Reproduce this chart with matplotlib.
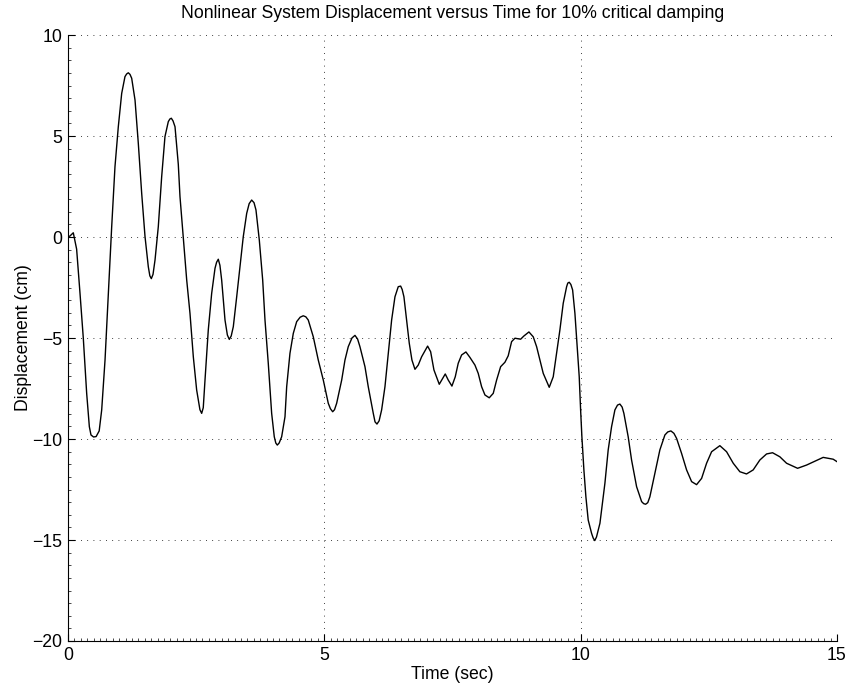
import numpy as np
import matplotlib
matplotlib.use("Agg")
import matplotlib.pyplot as plt
from matplotlib.ticker import MultipleLocator

# displacement history (sec, cm)
time_sec = [
    0.00, 0.04, 0.105, 0.17, 0.236, 0.30, 0.366, 0.418, 0.45, 0.50, 0.55, 0.61, 0.659, 0.724,
    0.788, 0.854, 0.918, 0.983, 1.049, 1.113, 1.145, 1.178, 1.211, 1.244, 1.309, 1.373, 1.439,
    1.504, 1.568, 1.598, 1.627, 1.66, 1.699, 1.763, 1.829, 1.893, 1.958, 1.988, 2.017, 2.05,
    2.089, 2.153, 2.186, 2.25, 2.317, 2.381, 2.446, 2.511, 2.575, 2.609, 2.64, 2.674, 2.738,
    2.804, 2.869, 2.90, 2.933, 2.965, 2.999, 3.064, 3.11, 3.148, 3.185, 3.226, 3.292, 3.356,
    3.42, 3.487, 3.535, 3.584, 3.63, 3.668, 3.733, 3.799, 3.844, 3.908, 3.974, 4.025, 4.055,
    4.084, 4.12, 4.169, 4.234, 4.267, 4.331, 4.396, 4.462, 4.53, 4.59, 4.64, 4.688, 4.786,
    4.883, 4.981, 5.078, 5.12, 5.164, 5.20, 5.242, 5.34, 5.404, 5.468, 5.54, 5.599, 5.65,
    5.696, 5.794, 5.858, 5.956, 5.99, 6.028, 6.07, 6.119, 6.184, 6.248, 6.314, 6.379, 6.443,
    6.49, 6.52, 6.554, 6.607, 6.658, 6.71, 6.769, 6.833, 6.899, 7.016, 7.075, 7.139, 7.243,
    7.309, 7.36, 7.418, 7.49, 7.555, 7.613, 7.679, 7.763, 7.841, 7.939, 8.003, 8.069, 8.134,
    8.218, 8.296, 8.362, 8.44, 8.524, 8.588, 8.654, 8.719, 8.83, 8.894, 8.992, 9.076, 9.142,
    9.206, 9.271, 9.388, 9.466, 9.532, 9.596, 9.661, 9.727, 9.75, 9.778, 9.81, 9.844, 9.889,
    9.934, 9.973, 10.0, 10.025, 10.064, 10.103, 10.148, 10.214, 10.245, 10.276, 10.31,
    10.377, 10.474, 10.538, 10.604, 10.669, 10.72, 10.766, 10.81, 10.844, 10.928, 10.994,
    11.092, 11.19, 11.23, 11.268, 11.31, 11.351, 11.449, 11.546, 11.644, 11.70, 11.761,
    11.82, 11.872, 11.969, 12.067, 12.165, 12.262, 12.36, 12.457, 12.555, 12.716, 12.847,
    12.977, 13.106, 13.236, 13.366, 13.496, 13.627, 13.744, 13.886, 14.017, 14.232, 14.407,
    14.731, 14.926, 15.0,
]
displacement_cm = [
    0.00, 0.05, 0.21, -0.6, -2.79, -5.00, -7.74, -9.39, -9.80, -9.90, -9.88, -9.60, -8.56, -6.09,
    -2.79, 0.51, 3.48, 5.46, 7.11, 7.94, 8.07, 8.13, 8.05, 7.86, 6.78, 4.64, 2.16,
    0.02, -1.47, -1.92, -2.06, -1.85, -1.14, 0.51, 2.99, 4.97, 5.71, 5.84, 5.88, 5.75,
    5.46, 3.60, 2.00, 0.01, -2.13, -3.78, -5.93, -7.57, -8.55, -8.73, -8.45, -7.08, -4.60,
    -2.79, -1.55, -1.25, -1.10, -1.40, -2.13, -4.11, -4.85, -5.07, -4.90, -4.44, -2.96, -1.47,
    0.01, 1.17, 1.65, 1.83, 1.70, 1.34, -0.15, -2.13, -4.11, -6.25, -8.73, -9.89, -10.20,
    -10.30, -10.20, -9.89, -8.90, -7.41, -5.76, -4.77, -4.19, -3.97, -3.90, -3.95, -4.11, -4.94,
    -6.09, -7.08, -8.23, -8.50, -8.65, -8.55, -8.23, -7.08, -6.09, -5.43, -5.00, -4.87, -5.05,
    -5.43, -6.42, -7.41, -8.73, -9.15, -9.26, -9.10, -8.56, -7.41, -5.76, -4.11, -2.96, -2.46,
    -2.43, -2.60, -2.96, -4.11, -5.26, -6.09, -6.55, -6.34, -5.93, -5.40, -5.68, -6.58, -7.29,
    -7.00, -6.78, -7.08, -7.38, -6.92, -6.25, -5.84, -5.69, -5.96, -6.34, -6.75, -7.41, -7.82,
    -7.96, -7.74, -7.08, -6.42, -6.20, -5.88, -5.18, -5.01, -5.06, -4.90, -4.70, -4.94, -5.43,
    -6.09, -6.75, -7.44, -6.92, -5.76, -4.60, -3.28, -2.46, -2.28, -2.24, -2.35, -2.62, -3.78,
    -5.43, -6.92, -8.56, -9.89, -11.53, -12.86, -14.01, -14.67, -14.90, -15.03, -14.85,
    -14.17, -12.19, -10.54, -9.39, -8.56, -8.32, -8.27, -8.42, -8.73, -9.89, -11.04,
    -12.36, -13.10, -13.20, -13.23, -13.15, -12.86, -11.70, -10.54, -9.80, -9.65, -9.60,
    -9.72, -9.97, -10.71, -11.53, -12.11, -12.26, -11.95, -11.20, -10.63, -10.33, -10.63,
    -11.20, -11.62, -11.73, -11.53, -11.04, -10.74, -10.68, -10.88, -11.20, -11.45, -11.29,
    -10.91, -11.00, -11.12,
]

x_ticks = [0, 5, 10, 15]
y_ticks = [-20, -15, -10, -5, 0, 5, 10]

plt.rcParams['font.family'] = ['Liberation Sans', 'DejaVu Sans']

fig = plt.figure(figsize=(8.51, 6.92), dpi=100)
ax = fig.add_axes([0.0798, 0.0737, 0.9037, 0.8757])

ax.plot(time_sec, displacement_cm, '-', color='k', linewidth=1.0)

ax.set_xlim(0, 15)
ax.set_ylim(-20, 10)
ax.set_xticks(x_ticks)
ax.set_yticks(y_ticks)
ax.xaxis.set_minor_locator(MultipleLocator(0.125))
ax.yaxis.set_minor_locator(MultipleLocator(0.625))

ax.grid(True, which='major', color='k', linestyle=(0, (1, 6.5)), linewidth=0.6)
for side in ['top', 'right']:
    ax.spines[side].set_visible(False)
for side in ['left', 'bottom']:
    ax.spines[side].set_linewidth(0.8)

ax.tick_params(which='major', direction='in', length=5, width=0.8, labelsize=12.7, pad=4)
ax.tick_params(which='minor', direction='in', length=2.5, width=0.5)

ax.set_title('Nonlinear System Displacement versus Time for 10% critical damping',
             fontsize=12.7, pad=12)
ax.set_xlabel('Time (sec)', fontsize=12.7, labelpad=2)
ax.set_ylabel('Displacement (cm)', fontsize=12.7, labelpad=0)

fig.savefig('out.png', dpi=100)
